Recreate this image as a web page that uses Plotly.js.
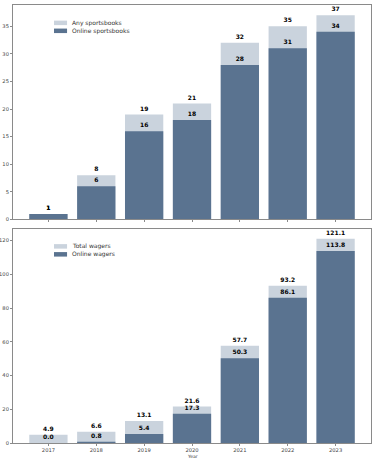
<!DOCTYPE html>
<html>
<head>
<meta charset="utf-8">
<script src="https://cdn.plot.ly/plotly-3.0.1.min.js"></script>
<style>html,body{margin:0;padding:0;background:#fff;}#chart{width:378px;height:459px;}</style>
</head>
<body>
<div id="chart"></div>
<script>
const years = ['2017','2018','2019','2020','2021','2022','2023'];
const anySportsbooks = [1, 8, 19, 21, 32, 35, 37];
const onlineSportsbooks = [1, 6, 16, 18, 28, 31, 34];
const totalWagers = [4.9, 6.6, 13.1, 21.6, 57.7, 93.2, 121.1];
const onlineWagers = [0.0, 0.8, 5.4, 17.3, 50.3, 86.1, 113.8];
const topTicks = [0, 5, 10, 15, 20, 25, 30, 35];
const bottomTicks = [0, 20, 40, 60, 80, 100, 120];

const LIGHT = '#cad3dd';
const DARK = '#5a7390';
const labelFont = {family: 'DejaVu Sans', size: 6, color: '#000', weight: 'bold'};

function bar(x, y, color, xa, ya, fmt) {
  return {
    type: 'bar', x: x, y: y, xaxis: xa, yaxis: ya, width: 0.8,
    marker: {color: color, line: {width: 0}},
    text: y.map(fmt), textposition: 'outside', cliponaxis: false,
    outsidetextfont: labelFont, textfont: labelFont, constraintext: 'none',
    hoverinfo: 'skip', showlegend: false
  };
}

const data = [
  bar(years, anySportsbooks, LIGHT, 'x', 'y', v => String(v)),
  bar(years, onlineSportsbooks, DARK, 'x', 'y', v => String(v)),
  bar(years, totalWagers, LIGHT, 'x2', 'y2', v => v.toFixed(1)),
  bar(years, onlineWagers, DARK, 'x2', 'y2', v => v.toFixed(1))
];

const axisLine = '#8a8a8a';
const tickFont = {family: 'DejaVu Sans', size: 5.2, color: '#444'};
function xAxis(showLabels, anchor) {
  return {
    type: 'category', range: [-0.74, 6.74], anchor: anchor,
    showgrid: false, zeroline: false, showline: true, mirror: true,
    linecolor: axisLine, linewidth: 1, ticks: 'outside', ticklen: 2,
    tickcolor: axisLine, showticklabels: showLabels, tickfont: tickFont,
    automargin: false
  };
}
function yAxis(range, ticks, domain, anchor) {
  return {
    range: range, domain: domain, anchor: anchor, tickvals: ticks,
    showgrid: false, zeroline: false, showline: true, mirror: true,
    linecolor: axisLine, linewidth: 1, ticks: 'outside', ticklen: 2,
    tickcolor: axisLine, tickfont: tickFont, automargin: false
  };
}

const legendTop = [['Any sportsbooks', LIGHT], ['Online sportsbooks', DARK]];
const legendBottom = [['Total wagers', LIGHT], ['Online wagers', DARK]];
const shapes = [], annotations = [];
function addLegend(items, xr, yr) {
  const ys = [0.9167, 0.8796];
  items.forEach((it, i) => {
    shapes.push({type: 'rect', xref: xr, yref: yr, x0: 0.1145, x1: 0.151,
      y0: ys[i] - 0.0105, y1: ys[i] + 0.0105, fillcolor: it[1], line: {width: 0}});
    annotations.push({xref: xr, yref: yr, x: 0.158, y: ys[i], xanchor: 'left', yanchor: 'middle',
      text: it[0], showarrow: false, font: {family: 'DejaVu Sans', size: 6, color: '#333'}});
  });
}
addLegend(legendTop, 'x domain', 'y domain');
addLegend(legendBottom, 'x2 domain', 'y2 domain');
annotations.push({xref: 'x2 domain', yref: 'paper', x: 0.5, y: 0, yshift: -9.5,
  xanchor: 'center', yanchor: 'top', text: 'Year', showarrow: false, borderpad: 0,
  font: {family: 'DejaVu Sans', size: 4.6, color: '#444'}});

const layout = {
  width: 378, height: 459,
  margin: {l: 13, r: 7, t: 5, b: 16},
  paper_bgcolor: '#fff', plot_bgcolor: '#fff',
  barmode: 'overlay', showlegend: false,
  xaxis: xAxis(false, 'y'),
  xaxis2: xAxis(true, 'y2'),
  yaxis: yAxis([0, 38.85], topTicks, [0.5103, 1], 'x'),
  yaxis2: yAxis([0, 127.2], bottomTicks, [0, 0.4897], 'x2'),
  shapes: shapes, annotations: annotations,
  font: {family: 'DejaVu Sans'}
};

Plotly.newPlot('chart', data, layout, {displayModeBar: false, staticPlot: true});
</script>
</body>
</html>
